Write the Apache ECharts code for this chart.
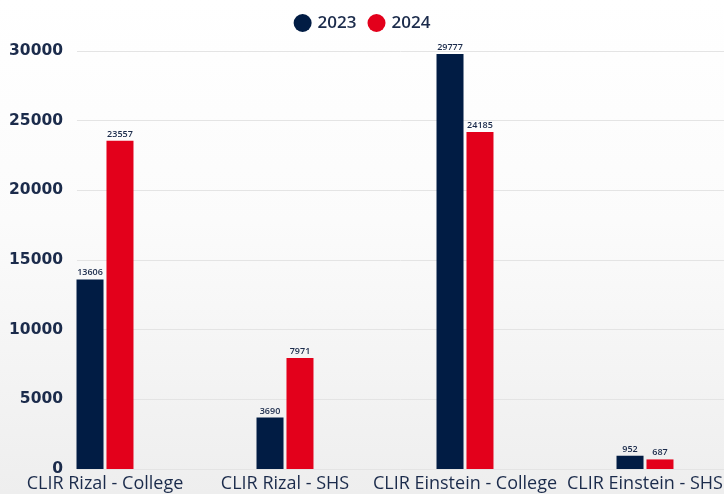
<!DOCTYPE html>
<html>
<head>
<meta charset="utf-8">
<script src="https://cdn.jsdelivr.net/npm/echarts@6/dist/echarts.min.js"></script>
<style>
  html, body { margin: 0; padding: 0; }
  body {
    width: 724px; height: 494px; overflow: hidden;
    background: linear-gradient(to bottom, #ffffff 0%, #fbfbfb 45%, #eeeeee 100%);
  }
  #chart { width: 724px; height: 494px; }
</style>
</head>
<body>
<div id="chart"></div>
<script>
// Visitor counts per campus library, 2023 vs 2024
const categories = ['CLIR Rizal - College', 'CLIR Rizal - SHS', 'CLIR Einstein - College', 'CLIR Einstein - SHS'];
const values2023 = [13606, 3690, 29777, 952];
const values2024 = [23557, 7971, 24185, 687];
const seriesNames = ['2023', '2024'];
const yMin = 0, yMax = 30000, yStep = 5000;

const NAVY = '#011c44';
const RED = '#e3001b';
const TEXT = '#1b2b4b';
const FONT = 'Open Sans';
const NUM_FONT = 'DejaVu Sans';

const chart = echarts.init(document.getElementById('chart'), null, { renderer: 'canvas' });

const valueLabel = {
  show: true, position: 'top', distance: 2,
  fontSize: 9, fontWeight: 600, color: TEXT, fontFamily: FONT
};

chart.setOption({
  animation: false,
  textStyle: { fontFamily: FONT },
  legend: {
    top: 9, left: 'center',
    icon: 'circle', itemWidth: 18, itemHeight: 18, itemGap: 11,
    textStyle: { fontSize: 17, fontWeight: 600, color: TEXT, fontFamily: FONT, padding: [0, 0, 0, 1] },
    data: seriesNames
  },
  grid: [
    // grid 0: value scale with labels and guide lines
    { left: 77, right: 0, top: 51, bottom: 25, containLabel: false, outerBoundsMode: 'none' },
    // grid 1: category bands carrying the bars (runs past the canvas on the right)
    { left: 15, width: 720, top: 51, bottom: 25, containLabel: false, outerBoundsMode: 'none' }
  ],
  xAxis: [
    { gridIndex: 0, type: 'value', show: false, min: 0, max: 1 },
    {
      gridIndex: 1, type: 'category', data: categories,
      axisLine: { show: false }, axisTick: { show: false },
      axisLabel: { margin: 6, fontSize: 18, fontWeight: 500, color: TEXT, fontFamily: FONT, interval: 0 }
    }
  ],
  yAxis: [
    {
      gridIndex: 0, type: 'value', min: yMin, max: yMax, interval: yStep,
      axisLine: { show: false }, axisTick: { show: false },
      axisLabel: {
        margin: 14, fontSize: 15.5, fontWeight: 'bold', color: TEXT, fontFamily: NUM_FONT,
        formatter: v => String(v)
      },
      splitLine: { lineStyle: { color: '#e4e4e4', width: 1 } }
    },
    {
      gridIndex: 1, type: 'value', min: yMin, max: yMax, interval: yStep, show: false,
      splitLine: { show: false }
    }
  ],
  series: [
    {
      name: seriesNames[0], type: 'bar', xAxisIndex: 1, yAxisIndex: 1,
      data: values2023, barWidth: 27, barGap: '11%',
      itemStyle: { color: NAVY }, label: valueLabel
    },
    {
      name: seriesNames[1], type: 'bar', xAxisIndex: 1, yAxisIndex: 1,
      data: values2024, barWidth: 27, barGap: '11%',
      itemStyle: { color: RED }, label: valueLabel
    }
  ]
});
</script>
</body>
</html>
